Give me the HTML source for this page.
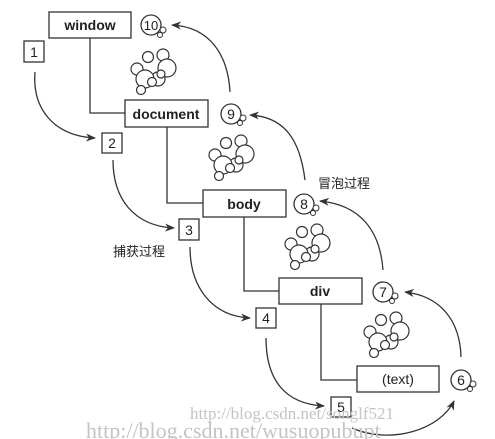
<!DOCTYPE html>
<html><head><meta charset="utf-8"><style>
body{margin:0;background:#fff}
svg{display:block}
text{font-family:"Liberation Sans","Noto Sans CJK SC",sans-serif;fill:#222}
text.wm{font-family:"Liberation Serif",serif;fill:#c4c4c4}
</style></head><body>
<svg width="495" height="439" viewBox="0 0 495 439">
<defs><marker id="a" markerWidth="10" markerHeight="8" refX="9" refY="4" orient="auto" markerUnits="userSpaceOnUse"><path d="M0,0 L10,4 L0,8 L3,4z" fill="#333"/></marker>
<g id="mol" fill="#fff" stroke="#333" stroke-width="1.2">
<circle cx="6" cy="22" r="6"/><circle cx="17" cy="10" r="5.5"/><circle cx="32" cy="8" r="6"/><circle cx="36" cy="21" r="9"/><circle cx="27" cy="32" r="7"/><circle cx="14" cy="32" r="9"/><circle cx="21" cy="35" r="4.5"/><circle cx="10" cy="43" r="4.5"/><circle cx="30" cy="27" r="4"/></g>
</defs>
<g fill="none" stroke="#333" stroke-width="1.3">
<path d="M90 38V113H125M167 127V203H203M244 217V291H279M321 304V380H357"/>
<rect x="49" y="12" width="82" height="26"/>
<rect x="125" y="100" width="83" height="27"/>
<rect x="203" y="190" width="83" height="27"/>
<rect x="279" y="278" width="83" height="26"/>
<rect x="357" y="366" width="82" height="26"/>
<rect x="24" y="41" width="20" height="21"/>
<rect x="102" y="133" width="20" height="20"/>
<rect x="179" y="219" width="20" height="21"/>
<rect x="256" y="308" width="20" height="20"/>
<rect x="331" y="397" width="20" height="20"/>
<circle cx="151" cy="25" r="10"/><circle cx="231" cy="114" r="10"/><circle cx="304" cy="204" r="10"/><circle cx="383" cy="292" r="10"/><circle cx="461" cy="380" r="10"/>
</g>
<g fill="#fff" stroke="#333" stroke-width="1"><circle cx="163" cy="30" r="3"/><circle cx="160" cy="35" r="2.5"/><circle cx="243" cy="118" r="3"/><circle cx="240" cy="123" r="2.5"/><circle cx="316" cy="208" r="3"/><circle cx="313" cy="213" r="2.5"/><circle cx="395" cy="296" r="3"/><circle cx="392" cy="301" r="2.5"/><circle cx="473" cy="384" r="3"/><circle cx="470" cy="389" r="2.5"/></g>
<g fill="none" stroke="#333" stroke-width="1.3" marker-end="url(#a)">
<path d="M35 72C32 110 55 136 95 138"/>
<path d="M113 160C113 200 135 226 174 228"/>
<path d="M190 247C190 285 210 316 250 318"/>
<path d="M266 338C266 380 285 404 324 406"/>
<path d="M352 428C390 445 440 430 454 401"/>
<path d="M461 357C460 320 440 296 405 292"/>
<path d="M383 270C380 230 360 205 320 201"/>
<path d="M305 180C300 140 285 117 250 115"/>
<path d="M230 92C228 55 210 27 172 25"/>
</g>
<use href="#mol" x="131" y="47"/>
<use href="#mol" x="209" y="133"/>
<use href="#mol" x="285" y="222"/>
<use href="#mol" x="364" y="310"/>
<g font-size="14" text-anchor="middle" font-weight="bold"><text x="90" y="30">window</text><text x="166" y="119">document</text><text x="244" y="209">body</text><text x="320" y="296">div</text><text x="398" y="384" font-weight="normal">(text)</text></g>
<g font-size="14" text-anchor="middle"><text x="34" y="57">1</text><text x="112" y="148">2</text><text x="189" y="235">3</text><text x="266" y="323">4</text><text x="341" y="412">5</text>
<text x="151" y="30" font-size="13">10</text><text x="231" y="119">9</text><text x="304" y="209">8</text><text x="383" y="297">7</text><text x="461" y="385">6</text></g>
<text x="318" y="188" font-size="13">冒泡过程</text>
<text x="113" y="256" font-size="13">捕获过程</text>
<text class="wm" x="190" y="419" font-size="17">http://blog.csdn.net/songlf521</text>
<text class="wm" x="86" y="438" font-size="22">http://blog.csdn.net/wusuopubupt</text>
</svg>
</body></html>
